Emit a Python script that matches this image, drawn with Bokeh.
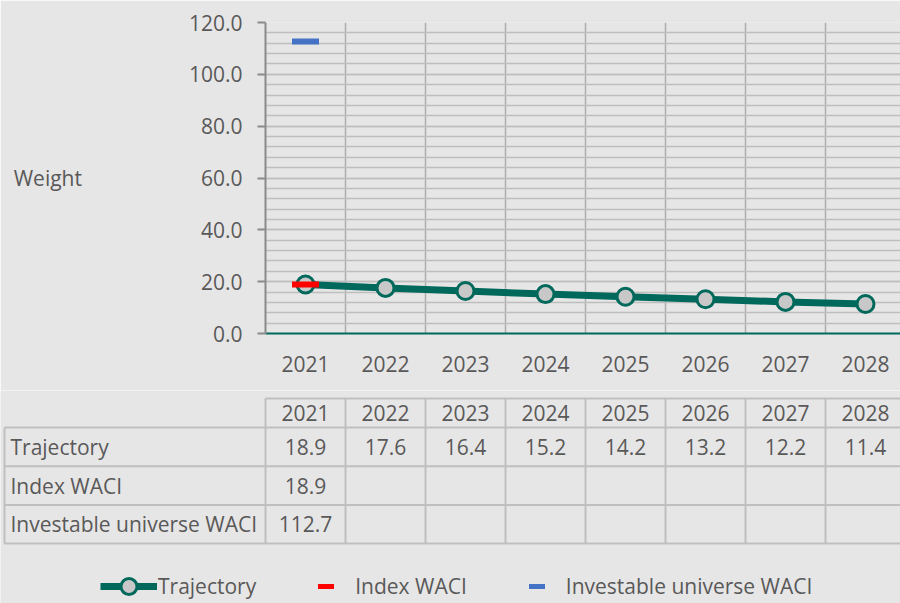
from bokeh.plotting import figure
from bokeh.layouts import column
from bokeh.models import (FixedTicker, NumeralTickFormatter, Range1d, Legend, LegendItem)
from bokeh.embed import file_html
from bokeh.resources import INLINE
from bokeh.core.properties import value

# ---------------- data ----------------
years = ["2021", "2022", "2023", "2024", "2025", "2026", "2027", "2028"]
trajectory = [18.9, 17.6, 16.4, 15.2, 14.2, 13.2, 12.2, 11.4]
index_waci = [18.9, None, None, None, None, None, None, None]
investable_waci = [112.7, None, None, None, None, None, None, None]
row_labels = ["Trajectory", "Index WACI", "Investable universe WACI"]
y_ticks = [0, 20, 40, 60, 80, 100, 120]
y_minor = list(range(0, 121, 4))

# ---------------- style ----------------
BG = "#E7E6E6"
TXT = "#595959"
TEAL = "#00695C"
RED = "#FF0000"
BLUE = "#4472C4"
FONT = "Open Sans"
FS = "21px"
W = 900
LEFT = 265
COL_W = 80.0
H1 = 390
H2 = 213
TOP = 22
FRAME_H = 311
NAN = float("nan")

xs = list(range(len(years)))
x_end = -0.5 + (W - LEFT) / COL_W

# ---------------- chart ----------------
p = figure(width=W, height=H1, output_backend="svg", toolbar_location=None,
           x_range=Range1d(-0.5, x_end), y_range=Range1d(0, 120),
           min_border_left=LEFT, min_border_right=0, min_border_top=TOP,
           min_border_bottom=H1 - TOP - FRAME_H)
p.frame_align = False
p.background_fill_color = BG
p.border_fill_color = BG
p.outline_line_color = None

# y axis
p.yaxis.ticker = FixedTicker(ticks=y_ticks, minor_ticks=y_minor)
p.yaxis.formatter = NumeralTickFormatter(format="0.0")
p.yaxis.major_label_text_font = FONT
p.yaxis.major_label_text_font_size = FS
p.yaxis.major_label_text_color = TXT
p.yaxis.major_label_standoff = 15
p.yaxis.major_tick_out = 8
p.yaxis.major_tick_in = 0
p.yaxis.minor_tick_out = 0
p.yaxis.minor_tick_in = 0
p.yaxis.axis_line_color = "#8A8A8A"
p.yaxis.axis_line_width = 2
p.yaxis.major_tick_line_color = "#8A8A8A"
p.yaxis.major_tick_line_width = 2
p.yaxis.axis_label = "Weight"
p.yaxis.axis_label_orientation = "horizontal"
p.yaxis.axis_label_standoff = 104
p.yaxis.axis_label_text_font = FONT
p.yaxis.axis_label_text_font_size = FS
p.yaxis.axis_label_text_font_style = "normal"
p.yaxis.axis_label_text_color = TXT

# x axis
p.xaxis.ticker = FixedTicker(ticks=xs)
p.xaxis.major_label_overrides = {i: y for i, y in enumerate(years)}
p.xaxis.major_label_text_font = FONT
p.xaxis.major_label_text_font_size = FS
p.xaxis.major_label_text_color = TXT
p.xaxis.major_label_standoff = 22
p.xaxis.major_tick_out = 0
p.xaxis.major_tick_in = 0
p.xaxis.minor_tick_out = 0
p.xaxis.minor_tick_in = 0
p.xaxis.axis_line_color = TEAL
p.xaxis.axis_line_width = 2

# grids
p.ygrid.ticker = FixedTicker(ticks=y_ticks, minor_ticks=y_minor)
p.ygrid.grid_line_color = "#BEBEBE"
p.ygrid.grid_line_width = 1.5
p.ygrid.minor_grid_line_color = "#BEBEBE"
p.ygrid.minor_grid_line_width = 1.5
p.xgrid.ticker = FixedTicker(ticks=[i - 0.5 for i in range(len(years) + 1)])
p.xgrid.grid_line_color = "#ADADAD"
p.xgrid.grid_line_width = 1.5

# series
p.line(xs, trajectory, line_color=TEAL, line_width=7)
p.scatter(xs, trajectory, marker="circle", size=17, fill_color="#C8C8C8",
          line_color=TEAL, line_width=3)
ix = [i for i, v in enumerate(index_waci) if v is not None]
p.scatter(ix, [index_waci[i] for i in ix], marker="dash", size=27,
          line_color=RED, line_width=6)
iv = [i for i, v in enumerate(investable_waci) if v is not None]
p.scatter(iv, [investable_waci[i] for i in iv], marker="dash", size=27,
          line_color=BLUE, line_width=6)

# ---------------- data table ----------------
x_start2 = -0.5 - LEFT / COL_W
p2 = figure(width=W, height=H2, output_backend="svg", toolbar_location=None,
            x_range=Range1d(x_start2, x_end), y_range=Range1d(H2, 0),
            x_axis_type=None, y_axis_type=None,
            min_border_left=0, min_border_right=0, min_border_top=0, min_border_bottom=0)
p2.frame_align = False
p2.background_fill_color = BG
p2.border_fill_color = BG
p2.outline_line_color = None
p2.grid.visible = False

HEAD_TOP = 8.0
HEAD_BOT = 37.0
ROW_H = 38.7
row_bounds = [HEAD_BOT + k * ROW_H for k in range(len(row_labels) + 1)]
row_centers = [(row_bounds[k] + row_bounds[k + 1]) / 2 for k in range(len(row_labels))]
table_left = -0.5 - 261 / COL_W
col_edges = [i - 0.5 for i in range(len(years) + 1)]
GRID = "#BFBFBF"

# horizontal lines
p2.segment([-0.5], [HEAD_TOP], [len(years) - 0.5], [HEAD_TOP], line_color=GRID, line_width=2)
p2.segment([table_left] * len(row_bounds), row_bounds,
           [len(years) - 0.5] * len(row_bounds), row_bounds, line_color=GRID, line_width=2)
# vertical lines
p2.segment(col_edges, [HEAD_TOP] * len(col_edges), col_edges,
           [row_bounds[-1]] * len(col_edges), line_color=GRID, line_width=2)
p2.segment([table_left], [HEAD_BOT], [table_left], [row_bounds[-1]], line_color=GRID, line_width=2)

txt_kw = dict(text_font=value(FONT), text_font_size=FS, text_color=TXT,
              text_baseline="middle")
# header
p2.text(xs, [(HEAD_TOP + HEAD_BOT) / 2] * len(xs), text=years, text_align="center", **txt_kw)
# row labels
p2.text([table_left + 6 / COL_W] * len(row_labels), row_centers, text=row_labels,
        text_align="left", **txt_kw)
# values
series = [trajectory, index_waci, investable_waci]
tx, ty, tt = [], [], []
for r, s in enumerate(series):
    for i, v in enumerate(s):
        if v is not None:
            tx.append(i)
            ty.append(row_centers[r])
            tt.append(f"{v:.1f}")
p2.text(tx, ty, text=tt, text_align="center", **txt_kw)

# legend (proxy renderers, one invisible NaN point each)
r_line = p2.line(x=[NAN, NAN], y=[NAN, NAN], line_color=TEAL, line_width=7)
r_circ = p2.scatter(x=[NAN], y=[NAN], marker="circle", fill_color="#C8C8C8",
                    line_color=TEAL, line_width=3)
r_idx = p2.scatter(x=[NAN], y=[NAN], marker="dash", line_color=RED, line_width=5)
r_inv = p2.scatter(x=[NAN], y=[NAN], marker="dash", line_color=BLUE, line_width=5)
legend = Legend(items=[LegendItem(label="Trajectory", renderers=[r_line, r_circ]),
                       LegendItem(label="Index WACI", renderers=[r_idx]),
                       LegendItem(label="Investable universe WACI", renderers=[r_inv])],
                orientation="horizontal", location=(100, -3),
                glyph_width=57, glyph_height=40, label_standoff=1, spacing=41,
                padding=0, margin=0, border_line_color=None, background_fill_alpha=0,
                label_text_font=FONT, label_text_font_size=FS, label_text_color=TXT,
                label_height=20)
p2.add_layout(legend)

layout = column(p, p2, spacing=0)
open("out.html", "w").write(file_html(layout, INLINE))
